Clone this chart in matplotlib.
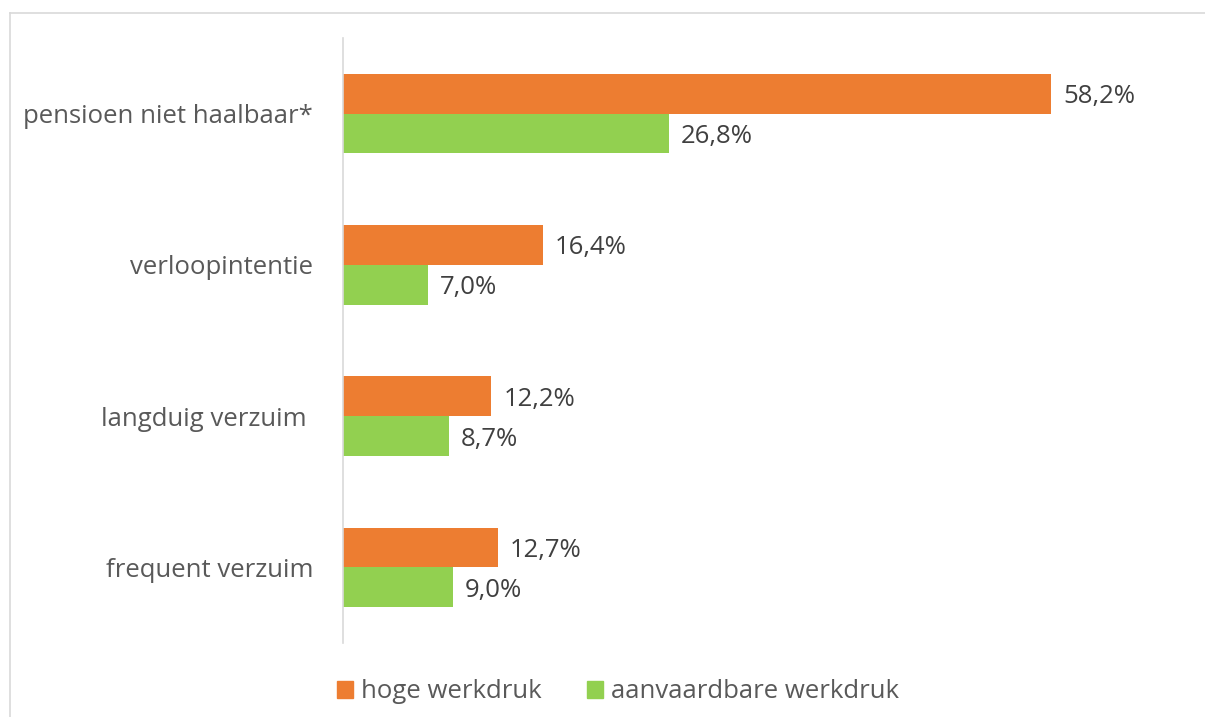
import matplotlib.pyplot as plt
import numpy as np
from matplotlib.lines import Line2D
from matplotlib.patches import Patch

plt.rcParams['font.family'] = ['Open Sans', 'DejaVu Sans']

categories = ["pensioen niet haalbaar*", "verloopintentie", "langduig verzuim ", "frequent verzuim"]
hoge = [58.2, 16.4, 12.2, 12.7]
aanvaardbaar = [26.8, 7.0, 8.7, 9.0]
series_names = ["hoge werkdruk", "aanvaardbare werkdruk"]

oranje = "#ED7D31"
groen = "#92D050"

W, H = 1205, 717
fig = plt.figure(figsize=(W / 100, H / 100), dpi=100)

# kader rond de grafiek (alleen boven en links zichtbaar)
fig.add_artist(Line2D([10 / W, 10 / W], [0, 1 - 13 / H], color="#d9d9d9", lw=1.2))
fig.add_artist(Line2D([10 / W, 1], [1 - 13 / H, 1 - 13 / H], color="#d9d9d9", lw=1.2))

# as-positie in pixels
left, right, top, bottom = 343, 1150, 38, 643
ax = fig.add_axes([left / W, 1 - bottom / H, (right - left) / W, (bottom - top) / H])

px_per_pct = 12.17
ax.set_xlim(0, (right - left) / px_per_pct)
ax.set_ylim(len(categories) - 0.5, -0.5)

y = np.arange(len(categories))
h = 40 / 152
ax.barh(y - h / 2, hoge, height=h, color=oranje, label=series_names[0])
ax.barh(y + h / 2, aanvaardbaar, height=h, color=groen, label=series_names[1])

dy = 3 / 152  # labels iets lager, zoals in het origineel
for i in range(len(categories)):
    ax.text(hoge[i] + 12 / px_per_pct, y[i] - h / 2 + dy, f"{hoge[i]:.1f}%".replace(".", ","),
            va="center", ha="left", fontsize=18.5, color="#404040")
    ax.text(aanvaardbaar[i] + 12 / px_per_pct, y[i] + h / 2 + dy, f"{aanvaardbaar[i]:.1f}%".replace(".", ","),
            va="center", ha="left", fontsize=18.5, color="#404040")

ax.set_yticks(y)
ax.set_yticklabels(categories, fontsize=18.5, color="#595959")
ax.tick_params(axis="y", length=0, pad=21.5)
ax.set_xticks([])
for s in ["top", "right", "bottom"]:
    ax.spines[s].set_visible(False)
ax.spines["left"].set_color("#d9d9d9")
ax.spines["left"].set_linewidth(1.2)

handles = [Patch(color=oranje), Patch(color=groen)]
fig.legend(handles, series_names, loc="center", bbox_to_anchor=(618 / W, 1 - 692 / H),
           ncol=2, frameon=False, fontsize=18.5, labelcolor="#595959",
           handlelength=0.62, handleheight=0.62, handletextpad=0.31, columnspacing=1.75,
           borderpad=0, borderaxespad=0)

fig.savefig("out.png", dpi=100)
